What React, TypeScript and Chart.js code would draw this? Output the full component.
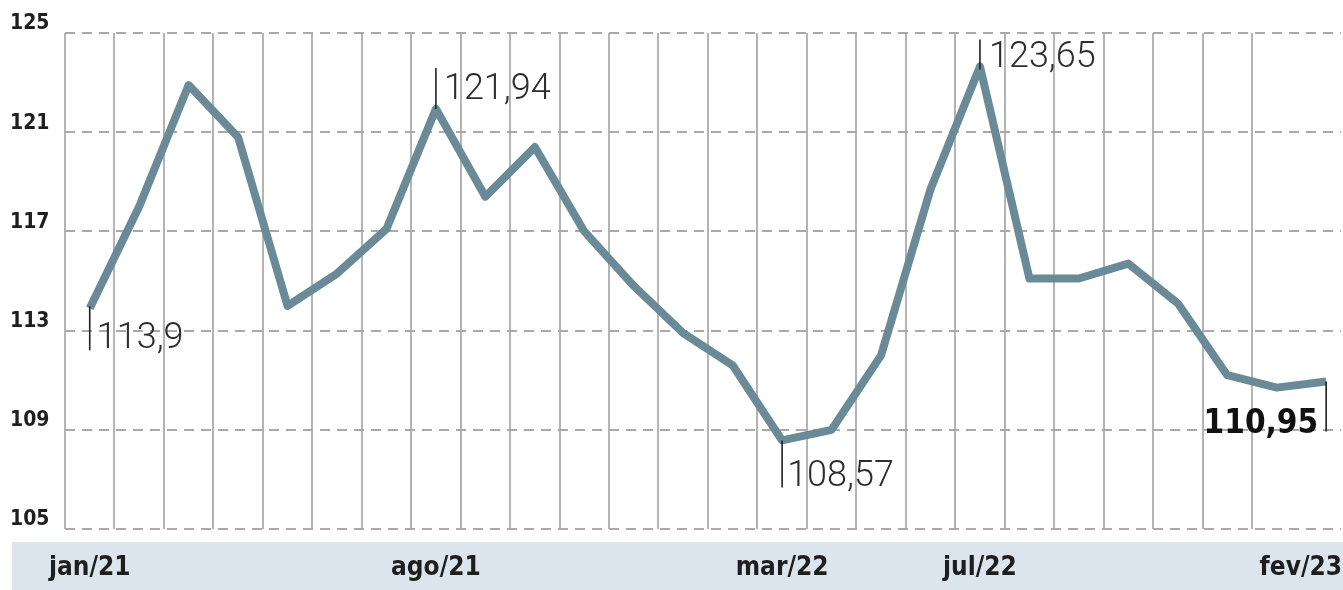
import React, { useEffect, useRef } from "react";
import { Chart, registerables } from "chart.js";

Chart.register(...registerables);

const months = [
  "jan/21", "fev/21", "mar/21", "abr/21", "mai/21", "jun/21", "jul/21", "ago/21",
  "set/21", "out/21", "nov/21", "dez/21", "jan/22", "fev/22", "mar/22", "abr/22",
  "mai/22", "jun/22", "jul/22", "ago/22", "set/22", "out/22", "nov/22", "dez/22",
  "jan/23", "fev/23",
];
const values = [
  113.9, 118.0, 122.9, 120.8, 114.0, 115.3, 117.1, 121.94,
  118.4, 120.4, 117.0, 114.8, 112.9, 111.6, 108.57, 109.0,
  112.0, 118.7, 123.65, 115.1, 115.1, 115.7, 114.1, 111.2,
  110.7, 110.95,
];
const xLabelIdx = [0, 7, 14, 18, 25];
const yTicks = [105, 109, 113, 117, 121, 125];
const annotIdx = [0, 7, 14, 18, 25];

// annotation styling: tick line from/to (relative to point), text anchor offsets
const annotStyle: Record<number, { t0: number; t1: number; dx: number; dy: number; align: CanvasTextAlign; bold: boolean }> = {
  0: { t0: -2, t1: 42, dx: 7, dy: 40, align: "left", bold: false },
  7: { t0: -41, t1: 0, dx: 8, dy: -10, align: "left", bold: false },
  14: { t0: 0, t1: 47, dx: 5, dy: 46, align: "left", bold: false },
  18: { t0: -27, t1: 3, dx: 9, dy: 1, align: "left", bold: false },
  25: { t0: 0, t1: 50, dx: -8, dy: 52, align: "right", bold: true },
};

const LINE_COLOR = "#6b8a98";
const BOLD_FONT = '"DejaVu Sans Condensed", "DejaVu Sans", sans-serif';

const decorPlugin = {
  id: "decor",
  beforeDraw(chart: any) {
    const { ctx, chartArea, width } = chart;
    ctx.save();
    ctx.fillStyle = "#dce5ed";
    ctx.fillRect(12, chartArea.bottom + 13, width - 12, 61);
    ctx.restore();
  },
  afterDraw(chart: any) {
    const { ctx, chartArea, width } = chart;
    const xs = chart.scales.x;
    const ys = chart.scales.y;
    ctx.save();
    // x labels in band
    ctx.font = `bold 26px ${BOLD_FONT}`;
    ctx.fillStyle = "#1e1e1e";
    ctx.textBaseline = "alphabetic";
    ctx.textAlign = "left";
    xLabelIdx.forEach((i) => {
      const label = months[i];
      const w = ctx.measureText(label).width;
      let left = xs.getPixelForValue(i) - w / 2;
      if (left < 36) left = 36;
      if (left + w > width - 1) left = width - 1 - w;
      ctx.fillText(label, left, chartArea.bottom + 46);
    });
    // annotations
    annotIdx.forEach((i) => {
      const st = annotStyle[i];
      const px = xs.getPixelForValue(i);
      const py = ys.getPixelForValue(values[i]);
      ctx.strokeStyle = "#222";
      ctx.lineWidth = 1.6;
      ctx.beginPath();
      ctx.moveTo(px, py + st.t0);
      ctx.lineTo(px, py + st.t1);
      ctx.stroke();
      const text = values[i].toString().replace(".", ",");
      ctx.textAlign = st.align;
      if (st.bold) {
        ctx.font = `bold 33px ${BOLD_FONT}`;
        ctx.fillStyle = "#111";
      } else {
        ctx.font = `300 36px Roboto, "Open Sans", sans-serif`;
        ctx.fillStyle = "#2e2e2e";
      }
      ctx.fillText(text, px + st.dx, py + st.dy);
    });
    ctx.restore();
  },
};

export default function App() {
  const ref = useRef<HTMLCanvasElement | null>(null);
  useEffect(() => {
    document.body.style.margin = "0";
    document.body.style.overflow = "hidden";
    const canvas = ref.current;
    if (!canvas) return;
    const chart = new Chart(canvas, {
      type: "line",
      data: {
        datasets: [
          {
            data: values.map((v, i) => ({ x: i, y: v })),
            borderColor: LINE_COLOR,
            borderWidth: 8,
            pointRadius: 0,
            tension: 0,
            borderJoinStyle: "round",
            fill: false,
          },
        ],
      },
      options: {
        animation: false,
        responsive: true,
        maintainAspectRatio: false,
        layout: { padding: { top: 33, left: 10, right: 2, bottom: 0 } },
        plugins: { legend: { display: false }, tooltip: { enabled: false } },
        scales: {
          x: {
            type: "linear",
            min: -0.5,
            max: 25.3,
            afterBuildTicks: (s: any) => {
              s.ticks = months.slice(0, 25).map((_, i) => ({ value: i - 0.5 }));
            },
            afterFit: (s: any) => {
              s.height = 61;
            },
            ticks: { display: false },
            grid: { color: "#b4b4b4", lineWidth: 2, drawTicks: false },
            border: { display: false },
          },
          y: {
            type: "linear",
            min: 105,
            max: 125,
            afterBuildTicks: (s: any) => {
              s.ticks = yTicks.map((v) => ({ value: v }));
            },
            afterFit: (s: any) => {
              s.width = 55;
            },
            ticks: {
              crossAlign: "far",
              labelOffset: -9,
              color: "#1e1e1e",
              font: { family: BOLD_FONT, weight: "bold", size: 21 },
            },
            grid: { color: "#a9a9a9", lineWidth: 2, drawTicks: false },
            border: { display: false, dash: [10, 7] },
          },
        },
      },
      plugins: [decorPlugin],
    });
    return () => chart.destroy();
  }, []);
  return (
    <div style={{ width: "1343px", height: "590px", position: "relative", background: "#fff" }}>
      <canvas ref={ref} />
    </div>
  );
}
